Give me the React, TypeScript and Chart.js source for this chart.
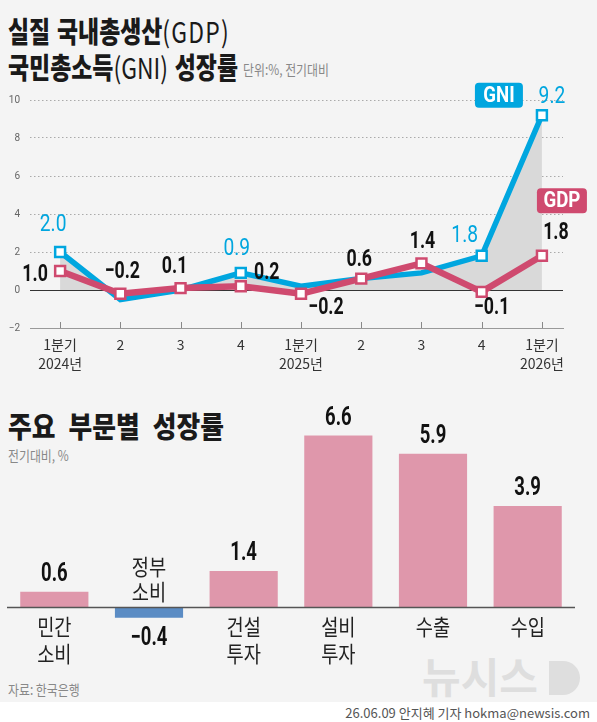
import React, { useEffect, useRef } from 'react';
import { Chart, registerables } from 'chart.js';

Chart.register(...registerables);

// ---------- data ----------
const quarters: (string | string[])[] = [
  ['1분기', '2024년'], '2', '3', '4',
  ['1분기', '2025년'], '2', '3', '4',
  ['1분기', '2026년'],
];
const gdpGrowth = [1.0, -0.2, 0.1, 0.2, -0.2, 0.6, 1.4, -0.1, 1.8];
const gniGrowth = [2.0, -0.5, 0.0, 0.9, 0.2, 0.6, 0.9, 1.8, 9.2];
const gniLabeled = [true, false, false, true, false, false, false, true, true];
const yTickValues = [-2, 0, 2, 4, 6, 8, 10];

const sectors: string[][] = [['민간', '소비'], ['정부', '소비'], ['건설', '투자'], ['설비', '투자'], ['수출'], ['수입']];
const sectorGrowth = [0.6, -0.4, 1.4, 6.6, 5.9, 3.9];

// ---------- label placement (styling, px offsets from point) ----------
const gdpLabelOffset = [[-25, 4], [2, -22], [-6, -21], [26, -13], [25, 14], [-2, -19], [1, -21], [10, 16], [14, -23]];
const gniLabelOffset = [[-7, -27], [0, 0], [0, 0], [-4, -24], [0, 0], [0, 0], [0, 0], [-17, -20], [10, -18]];

// ---------- style ----------
const KR = "'Noto Sans CJK KR', 'Noto Sans', sans-serif";
const NUM = "Roboto, 'Noto Sans', sans-serif";
const GNI_COLOR = '#00a6df';
const GDP_COLOR = '#cf4a6f';
const FILL_COLOR = '#d9d9d9';
const PINK = '#df97ab';
const BLUE = '#5b8cc4';
const BG = '#f4f4f4';

const fmt = (v: number) => (v < 0 ? '\u2212' : '') + Math.abs(v).toFixed(1);

function drawText(ctx: CanvasRenderingContext2D, text: string, x: number, y: number, font: string, color: string, sx: number) {
  ctx.save();
  ctx.translate(x, y);
  ctx.scale(sx, 1);
  ctx.font = font;
  ctx.fillStyle = color;
  ctx.textAlign = 'center';
  ctx.textBaseline = 'middle';
  ctx.fillText(text, 0, 0);
  ctx.restore();
}

function badge(ctx: CanvasRenderingContext2D, text: string, cx: number, cy: number, w: number, h: number, color: string) {
  ctx.save();
  ctx.fillStyle = color;
  ctx.beginPath();
  (ctx as any).roundRect(cx - w / 2, cy - h / 2, w, h, 4);
  ctx.fill();
  ctx.restore();
  drawText(ctx, text, cx, cy + 1, `bold 22px ${NUM}`, '#ffffff', 0.85);
}

const lineLabels = {
  id: 'lineLabels',
  afterDatasetsDraw(chart: any) {
    const ctx = chart.ctx as CanvasRenderingContext2D;
    const xs = chart.scales.x;
    const ys = chart.scales.y;
    const bottom = chart.chartArea.bottom;
    // tick marks on the category axis
    ctx.save();
    ctx.strokeStyle = '#888';
    ctx.lineWidth = 1;
    quarters.forEach((_, i) => {
      const x = Math.round(xs.getPixelForValue(i)) + 0.5;
      ctx.beginPath();
      ctx.moveTo(x, bottom - 6);
      ctx.lineTo(x, bottom);
      ctx.stroke();
    });
    ctx.restore();
    // GDP labels
    gdpGrowth.forEach((v, i) => {
      const x = xs.getPixelForValue(i) + gdpLabelOffset[i][0];
      const y = ys.getPixelForValue(v) + gdpLabelOffset[i][1];
      drawText(ctx, fmt(v), x, y, `bold 24px ${NUM}`, '#111', 0.74);
    });
    // GNI labels
    gniGrowth.forEach((v, i) => {
      if (!gniLabeled[i]) return;
      const x = xs.getPixelForValue(i) + gniLabelOffset[i][0];
      const y = ys.getPixelForValue(v) + gniLabelOffset[i][1];
      drawText(ctx, fmt(v), x, y, `24px ${NUM}`, GNI_COLOR, 0.8);
    });
    // series badges next to the last points
    const last = quarters.length - 1;
    const lx = xs.getPixelForValue(last);
    badge(ctx, 'GNI', lx - 43, ys.getPixelForValue(gniGrowth[last]) - 20, 48, 25, GNI_COLOR);
    badge(ctx, 'GDP', lx + 20, ys.getPixelForValue(gdpGrowth[last]) - 55, 50, 25, GDP_COLOR);
  },
};

const barLabels = {
  id: 'barLabels',
  afterDatasetsDraw(chart: any) {
    const ctx = chart.ctx as CanvasRenderingContext2D;
    const xs = chart.scales.x;
    const ys = chart.scales.y;
    const base = ys.getPixelForValue(0);
    const area = chart.chartArea;
    ctx.save();
    ctx.strokeStyle = '#555';
    ctx.lineWidth = 1.5;
    ctx.beginPath();
    ctx.moveTo(area.left, base);
    ctx.lineTo(area.right, base);
    ctx.stroke();
    ctx.restore();
    sectorGrowth.forEach((v, i) => {
      const x = xs.getPixelForValue(i);
      const end = ys.getPixelForValue(v);
      const lines = sectors[i];
      if (v >= 0) {
        drawText(ctx, fmt(v), x, end - 17, `bold 25px ${NUM}`, '#111', 0.74);
        lines.forEach((t, j) => drawText(ctx, t, x, base + 19 + j * 27, `22px ${KR}`, '#222', 0.85));
      } else {
        drawText(ctx, fmt(v), x, end + 21, `bold 25px ${NUM}`, '#111', 0.74);
        lines.forEach((t, j) => drawText(ctx, t, x, base - 41 + j * 25, `22px ${KR}`, '#222', 0.85));
      }
    });
  },
};

function LineChart() {
  const ref = useRef<HTMLCanvasElement | null>(null);
  useEffect(() => {
    if (!ref.current) return;
    const chart = new Chart(ref.current, {
      type: 'line',
      data: {
        datasets: [
          {
            label: 'GDP',
            data: gdpGrowth.map((v, i) => ({ x: i, y: v })),
            borderColor: GDP_COLOR,
            borderWidth: 6.5,
            pointStyle: 'rect',
            pointRadius: 7,
            pointBackgroundColor: '#ffffff',
            pointBorderColor: GDP_COLOR,
            pointBorderWidth: 2.5,
            fill: false,
            tension: 0,
            order: 0,
          } as any,
          {
            label: 'GNI',
            data: gniGrowth.map((v, i) => ({ x: i, y: v })),
            borderColor: GNI_COLOR,
            borderWidth: 5.5,
            pointStyle: 'rect',
            pointRadius: gniLabeled.map((b) => (b ? 7 : 0)),
            pointBackgroundColor: '#ffffff',
            pointBorderColor: GNI_COLOR,
            pointBorderWidth: 2.5,
            backgroundColor: FILL_COLOR,
            fill: { target: 'origin', above: FILL_COLOR, below: FILL_COLOR },
            tension: 0,
            order: 1,
          } as any,
        ],
      },
      options: {
        animation: false,
        responsive: false,
        events: [],
        layout: { padding: { top: 20, right: 34, left: 0, bottom: 0 } },
        plugins: { legend: { display: false }, tooltip: { enabled: false } },
        scales: {
          x: {
            type: 'linear',
            min: -0.5,
            max: 8.35,
            afterBuildTicks: (ax: any) => {
              ax.ticks = quarters.map((_, i) => ({ value: i }));
            },
            afterFit: (s: any) => {
              s.height = 52;
            },
            ticks: {
              autoSkip: false,
              maxRotation: 0,
              padding: 7,
              color: '#333',
              font: { family: KR, size: 14, lineHeight: 1.36 },
              callback: (v: any) => quarters[Math.round(Number(v))] as any,
            },
            grid: { display: false, drawTicks: false },
            border: { display: true, color: '#999', width: 1 },
          },
          y: {
            min: -2,
            max: 10,
            afterBuildTicks: (ax: any) => {
              ax.ticks = yTickValues.map((v) => ({ value: v }));
            },
            afterFit: (s: any) => {
              s.width = 30;
            },
            ticks: {
              padding: 10,
              color: '#666',
              font: { family: NUM, size: 10 },
              callback: (v: any) => (Number(v) < 0 ? '\u2212' + Math.abs(Number(v)) : String(v)),
            },
            grid: {
              drawTicks: false,
              lineWidth: 1,
              color: (c: any) => (c.tick && c.tick.value === 0 ? '#333' : c.tick && c.tick.value === -2 ? 'rgba(0,0,0,0)' : '#aaa'),
            },
            border: {
              display: false,
              dash: (c: any) => (c.tick && c.tick.value === 0 ? [] : [1.5, 2.5]),
            } as any,
          },
        },
      } as any,
      plugins: [lineLabels],
    });
    return () => chart.destroy();
  }, []);
  return <canvas ref={ref} width={597} height={300} style={{ position: 'absolute', left: 0, top: 80, width: 597, height: 300 }} />;
}

function BarChart() {
  const ref = useRef<HTMLCanvasElement | null>(null);
  useEffect(() => {
    if (!ref.current) return;
    const chart = new Chart(ref.current, {
      type: 'bar',
      data: {
        labels: sectors.map((s) => s.join('')),
        datasets: [
          {
            data: sectorGrowth,
            backgroundColor: sectorGrowth.map((v) => (v < 0 ? BLUE : PINK)),
            borderWidth: 0,
            barPercentage: 0.72,
            categoryPercentage: 1,
          },
        ],
      },
      options: {
        animation: false,
        responsive: false,
        events: [],
        layout: { padding: { left: 7, right: 22, top: 20, bottom: 77 } },
        plugins: { legend: { display: false }, tooltip: { enabled: false } },
        scales: {
          x: { display: false },
          y: { display: false, min: -0.6, max: 7.2 },
        },
      } as any,
      plugins: [barLabels],
    });
    return () => chart.destroy();
  }, []);
  return <canvas ref={ref} width={597} height={300} style={{ position: 'absolute', left: 0, top: 400, width: 597, height: 300 }} />;
}

export default function App() {
  const cond = (sx: number): React.CSSProperties => ({
    transform: `scaleX(${sx})`,
    transformOrigin: 'left top',
    whiteSpace: 'nowrap',
    position: 'absolute',
  });
  return (
    <div style={{ position: 'absolute', left: 0, top: 0, width: 597, height: 722, background: BG, overflow: 'hidden', fontFamily: KR, color: '#1a1a1a' }}>
      <div style={{ ...cond(0.79), left: 8, top: 15, fontSize: 29, fontWeight: 900, lineHeight: '30px', wordSpacing: 2 }}>
        실질 국내총생산<span style={{ fontWeight: 400, letterSpacing: 1.5 }}>(GDP)</span>
      </div>
      <div style={{ ...cond(0.79), left: 8, top: 51, fontSize: 29, fontWeight: 900, lineHeight: '30px', wordSpacing: 2 }}>
        국민총소득<span style={{ fontWeight: 400, letterSpacing: 0 }}>(GNI)</span> 성장률
      </div>
      <div style={{ ...cond(0.85), left: 243, top: 60, fontSize: 14, lineHeight: '18px', color: '#888' }}>단위:%, 전기대비</div>

      <div style={{ ...cond(0.89), left: 8, top: 409, fontSize: 29, fontWeight: 900, lineHeight: '32px', wordSpacing: 8 }}>주요 부문별 성장률</div>
      <div style={{ ...cond(0.85), left: 8, top: 446, fontSize: 14, lineHeight: '18px', color: '#888' }}>전기대비, %</div>

      <div style={{ position: 'absolute', left: 422, top: 650, fontSize: 42, fontWeight: 700, lineHeight: '50px', color: '#dedede', whiteSpace: 'nowrap' }}>뉴시스</div>
      <div style={{ position: 'absolute', left: 549, top: 661, width: 31, height: 34, background: '#dedede', borderRadius: '0 17px 17px 0' }} />

      <div style={{ ...cond(0.85), left: 8, top: 680, fontSize: 14, lineHeight: '18px', color: '#888' }}>자료: 한국은행</div>
      <div style={{ position: 'absolute', left: 0, top: 702, width: 597, height: 20, background: '#ffffff' }} />
      <div style={{ position: 'absolute', right: 7, top: 704, fontSize: 13, lineHeight: '18px', color: '#555', whiteSpace: 'nowrap' }}>
        26.06.09 안지혜 기자 hokma@newsis.com
      </div>

      <LineChart />
      <BarChart />
    </div>
  );
}
